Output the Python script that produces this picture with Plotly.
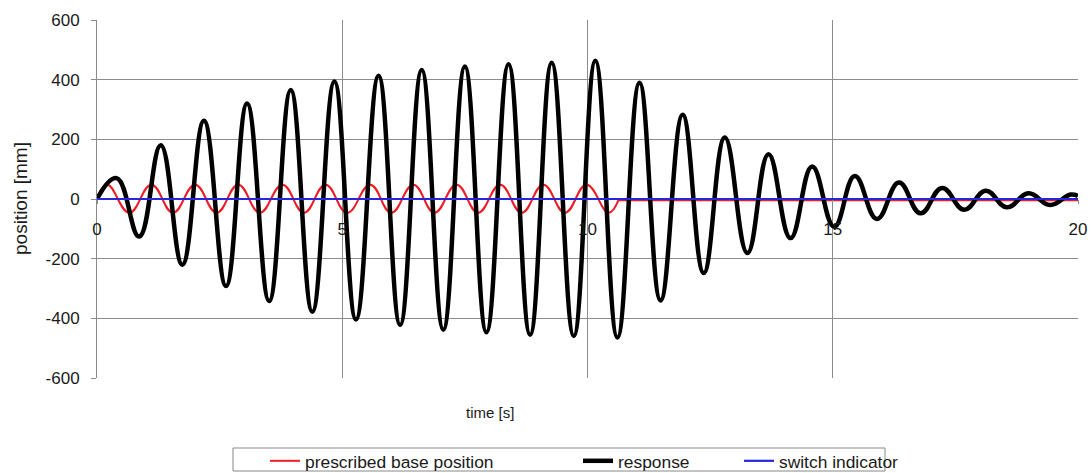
import plotly.graph_objects as go

# ---------------- data ----------------
series_names = ["prescribed base position", "response", "switch indicator"]

# response: successive extrema (time [s], position [mm])
resp_t = [0.00, 0.40, 0.86, 1.30, 1.74, 2.18, 2.63, 3.06, 3.51, 3.95, 4.39,
          4.84, 5.28, 5.74, 6.18, 6.62, 7.06, 7.50, 7.94, 8.39, 8.83, 9.27,
          9.72, 10.16, 10.61, 11.06, 11.49, 11.94, 12.37, 12.80, 13.26, 13.69,
          14.14, 14.58, 15.03, 15.45, 15.90, 16.35, 16.79, 17.23, 17.68, 18.12,
          18.55, 18.99, 19.43, 19.85, 20.00]
resp_v = [0, 70, -126, 180, -220, 262, -292, 320, -342, 365, -378,
          394, -404, 413, -422, 432, -438, 444, -447, 452, -455, 457,
          -459, 463, -464, 390, -340, 282, -248, 206, -181, 150,
          -131, 109, -93, 77, -67, 55, -48, 37, -36, 28,
          -28, 19, -20, 15, 10]

# prescribed base position: extrema while shaking, then at rest
base_t = [0.00, 0.21, 0.66, 1.11, 1.55, 2.00, 2.44, 2.88, 3.32, 3.78, 4.22,
          4.66, 5.10, 5.57, 6.00, 6.45, 6.88, 7.33, 7.77, 8.22, 8.66, 9.10,
          9.54, 9.98, 10.43, 10.63]
base_v = [0, 48, -46, 48, -46, 48, -46, 48, -46, 48, -46,
          48, -46, 48, -46, 48, -46, 48, -46, 48, -46, 48,
          -46, 48, -46, -4]
base_rest_t = [10.63, 20.0]
base_rest_v = [-4, -4]

# switch indicator
switch_t = [0.0, 20.0]
switch_v = [0, 0]

# axes
x_ticks = [0, 5, 10, 15, 20]
x_ticktext = ["0", "5", "10", "15", "20"]
y_ticks = [-600, -400, -200, 0, 200, 400, 600]
y_ticktext = ["-600", "-400", "-200", "0", "200", "400", "600"]
x_grid = [5, 10, 15]
y_grid = [-400, -200, 200, 400]
x_range = [0, 20]
y_range = [-600, 600]

# ---------------- styling ----------------
W, H = 1092, 473
ML, MR, MT, MB = 97, 14, 20, 95
PW = W - ML - MR
PH = H - MT - MB
FONT = "Arial, 'Liberation Sans', sans-serif"
TXT = "#1a1a1a"
GRID = "#8c8c8c"
AXIS = "#8a8a8a"
RED = "#ee1c24"
BLUE = "#2626dc"
SMOOTH = 1.25


def px_x(p):
    return (p - ML) / PW


def px_y(p):
    return (H - MB - p) / PH


fig = go.Figure()

fig.add_trace(go.Scatter(x=base_t, y=base_v, mode="lines", name=series_names[0],
                         line=dict(color=RED, width=2, shape="spline", smoothing=SMOOTH),
                         legend="legend"))
fig.add_trace(go.Scatter(x=base_rest_t, y=base_rest_v, mode="lines", name=series_names[0],
                         line=dict(color=RED, width=2), showlegend=False,
                         legend="legend"))
fig.add_trace(go.Scatter(x=resp_t, y=resp_v, mode="lines", name=series_names[1],
                         line=dict(color="#000000", width=4.5, shape="spline", smoothing=SMOOTH),
                         legend="legend2"))
# drawn on the overlaid (grid) axes so it sits on top of the other series
fig.add_trace(go.Scatter(x=switch_t, y=switch_v, mode="lines", name=series_names[2],
                         line=dict(color=BLUE, width=2.2),
                         xaxis="x2", yaxis="y2", legend="legend3"))

tickfont = dict(family=FONT, size=17, color=TXT)
legfont = dict(family=FONT, size=17.4, color=TXT)

fig.update_layout(
    width=W, height=H,
    margin=dict(l=ML, r=MR, t=MT, b=MB, pad=0, autoexpand=False),
    paper_bgcolor="white", plot_bgcolor="white",
    font=dict(family=FONT, size=16, color=TXT),
    xaxis=dict(range=x_range, tickmode="array", tickvals=x_ticks, ticktext=x_ticktext,
               showgrid=False, zeroline=False, showline=False,
               ticks="outside", ticklen=4, tickcolor=AXIS, tickfont=tickfont,
               anchor="free", position=0.5, ticklabelstandoff=11, fixedrange=True),
    yaxis=dict(range=y_range, tickmode="array", tickvals=y_ticks, ticktext=y_ticktext,
               showgrid=False, zeroline=False, showline=True, linecolor=AXIS, linewidth=1,
               ticks="outside", ticklen=5, tickcolor=AXIS, tickfont=tickfont,
               ticklabelstandoff=8, fixedrange=True),
    xaxis2=dict(range=x_range, overlaying="x", anchor="y2", tickmode="array", tickvals=x_grid,
                showgrid=True, gridcolor=GRID, gridwidth=1, showticklabels=False,
                ticks="", showline=False, zeroline=False, fixedrange=True),
    yaxis2=dict(range=y_range, overlaying="y", anchor="x2", tickmode="array", tickvals=y_grid,
                showgrid=True, gridcolor=GRID, gridwidth=1, showticklabels=False,
                ticks="", showline=False, zeroline=False, fixedrange=True),
    legend=dict(x=px_x(265), y=px_y(461), xanchor="left", yanchor="middle",
                orientation="h", bgcolor="rgba(0,0,0,0)", borderwidth=0, font=legfont),
    legend2=dict(x=px_x(578), y=px_y(461), xanchor="left", yanchor="middle",
                 orientation="h", bgcolor="rgba(0,0,0,0)", borderwidth=0, font=legfont),
    legend3=dict(x=px_x(739), y=px_y(461), xanchor="left", yanchor="middle",
                 orientation="h", bgcolor="rgba(0,0,0,0)", borderwidth=0, font=legfont),
    shapes=[dict(type="rect", xref="paper", yref="paper",
                 x0=px_x(233), x1=px_x(885), y0=px_y(471), y1=px_y(448),
                 line=dict(color="#888888", width=1), fillcolor="rgba(0,0,0,0)",
                 layer="below")],
    annotations=[
        dict(text="position [mm]", xref="paper", yref="paper", x=px_x(20), y=0.5,
             textangle=-90, showarrow=False, xanchor="center", yanchor="middle",
             font=dict(family=FONT, size=19, color=TXT)),
        dict(text="time [s]", xref="paper", yref="paper", x=px_x(490), y=px_y(412),
             showarrow=False, xanchor="center", yanchor="middle",
             font=dict(family=FONT, size=15, color=TXT)),
    ],
)

fig.write_html("out.html",
               config={"displayModeBar": False, "staticPlot": False},
               post_script="document.body.style.margin='0';document.body.style.overflow='hidden';")
